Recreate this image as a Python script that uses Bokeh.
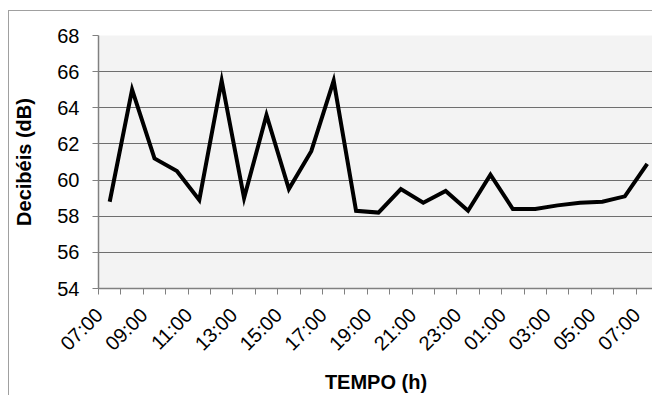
import math
from bokeh.plotting import figure
from bokeh.models import Range1d, FixedTicker
from bokeh.embed import file_html
from bokeh.resources import INLINE

hours = ["07:00", "08:00", "09:00", "10:00", "11:00", "12:00", "13:00", "14:00",
         "15:00", "16:00", "17:00", "18:00", "19:00", "20:00", "21:00", "22:00",
         "23:00", "00:00", "01:00", "02:00", "03:00", "04:00", "05:00", "06:00", "07:00"]
decibels = [58.8, 65.0, 61.2, 60.5, 58.9, 65.5, 59.0, 63.6, 59.5, 61.6, 65.5, 58.3,
            58.2, 59.5, 58.75, 59.4, 58.3, 60.3, 58.4, 58.4, 58.6, 58.75, 58.8, 59.1, 60.9]
y_ticks = [54, 56, 58, 60, 62, 64, 66, 68]

xs = list(range(len(hours)))

p = figure(width=644, height=400, output_backend="svg", toolbar_location=None,
           x_range=Range1d(-0.5, 24.28), y_range=Range1d(54, 68),
           min_border_left=89, min_border_top=24, min_border_bottom=123, min_border_right=0)
p.margin = (10, 0, 0, 8)
p.styles = {"border-left": "1.5px solid #a0a0a0", "border-top": "1.5px solid #a0a0a0"}

p.border_fill_color = "white"
p.outline_line_color = None
p.background_fill_color = "#f3f3f3"

p.line(xs, decibels, line_color="black", line_width=4, line_join="miter")

# labels sit slightly left of the category centre, as in the original
shift = 15 / 32
label_idx = xs[::2]
label_pos = [i - shift for i in label_idx]
p.xaxis.ticker = FixedTicker(ticks=label_pos, minor_ticks=[i - 0.5 for i in xs] + [24.5])
p.xaxis.major_label_overrides = {i - shift: hours[i] for i in label_idx}
p.xaxis.major_label_orientation = math.pi / 4
p.xaxis.major_tick_out = 0
p.xaxis.major_tick_in = 0
p.xaxis.minor_tick_out = 6
p.xaxis.minor_tick_in = 0
p.xaxis.minor_tick_line_color = "#808080"
p.xaxis.axis_line_color = "#808080"
p.xaxis.axis_line_width = 1.5
p.xaxis.major_label_standoff = 17
p.xaxis.axis_label = "TEMPO (h)"
p.xaxis.axis_label_standoff = 6

p.yaxis.ticker = FixedTicker(ticks=y_ticks)
p.yaxis.major_tick_out = 6
p.yaxis.major_tick_in = 0
p.yaxis.minor_tick_out = 0
p.yaxis.minor_tick_in = 0
p.yaxis.major_tick_line_color = "#808080"
p.yaxis.axis_line_color = "#808080"
p.yaxis.axis_line_width = 1.5
p.yaxis.major_label_standoff = 13
p.yaxis.axis_label = "Decibéis (dB)"
p.yaxis.axis_label_standoff = 19

for ax in (p.xaxis, p.yaxis):
    ax.major_label_text_font = "Liberation Sans"
    ax.major_label_text_font_size = "20px"
    ax.major_label_text_color = "black"
    ax.axis_label_text_font = "Liberation Sans"
    ax.axis_label_text_font_size = "20px"
    ax.axis_label_text_font_style = "bold"
    ax.axis_label_text_color = "black"

p.xgrid.grid_line_color = None
p.ygrid.ticker = FixedTicker(ticks=y_ticks)
p.ygrid.grid_line_color = "#6e6e6e"
p.ygrid.grid_line_width = 1.2

open("out.html", "w").write(file_html(p, INLINE))
